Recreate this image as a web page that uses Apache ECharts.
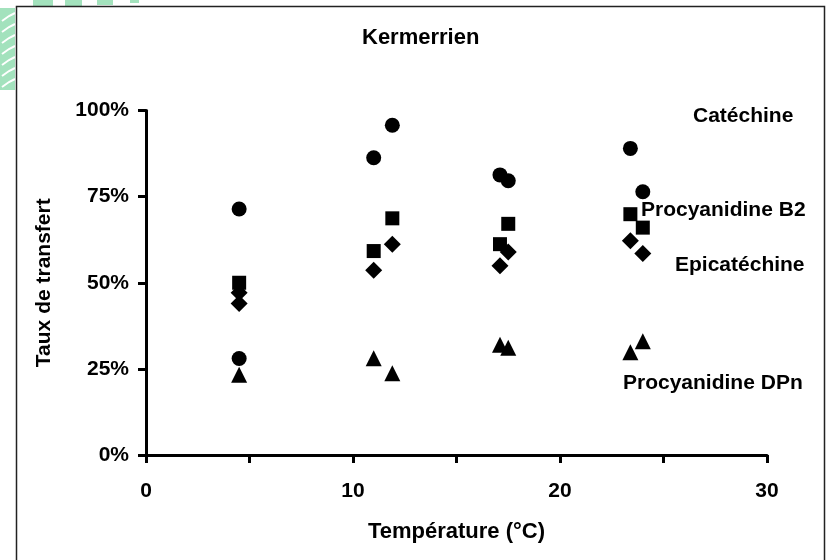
<!DOCTYPE html>
<html>
<head>
<meta charset="utf-8">
<script src="https://cdn.jsdelivr.net/npm/echarts@6/dist/echarts.min.js"></script>
<style>html,body{margin:0;padding:0;background:#fff}#c{width:831px;height:560px}</style>
</head>
<body>
<div id="c"></div>
<script>
// ---- data ----
const titleText = 'Kermerrien';
const xName = 'Température (°C)';
const yName = 'Taux de transfert';
const seriesNames = ['Catéchine', 'Procyanidine B2', 'Epicatéchine', 'Procyanidine DPn'];
const seriesSymbols = ['circle', 'rect', 'diamond', 'triangle'];
const catechineX = [4.5, 4.5, 11, 11.9, 17.1, 17.5, 23.4, 24];
const catechineY = [71.4, 28.0, 86.3, 95.7, 81.3, 79.6, 89.0, 76.4];
const b2X = [4.5, 11, 11.9, 17.1, 17.5, 23.4, 24];
const b2Y = [50.0, 59.2, 68.7, 61.2, 67.1, 69.9, 66.0];
const epiX = [4.5, 4.5, 11, 11.9, 17.1, 17.5, 23.4, 24];
const epiY = [47.1, 44.0, 53.6, 61.2, 54.9, 58.9, 62.2, 58.5];
const dpnX = [4.5, 11, 11.9, 17.1, 17.5, 23.4, 24];
const dpnY = [23.3, 28.1, 23.7, 32.0, 31.1, 29.8, 33.0];
const xTickLabels = ['0', '10', '20', '30'];
const yTickLabels = ['0%', '25%', '50%', '75%', '100%'];

const FONT = 'Liberation Sans, Arial, sans-serif';
const pairs = (xs, ys) => xs.map((x, i) => [x, ys[i]]);
const seriesData = [pairs(catechineX, catechineY), pairs(b2X, b2Y), pairs(epiX, epiY), pairs(dpnX, dpnY)];
const symbolSizes = [15, 14, 17, 16];
const labelPos = [[693, 116], [641, 210], [675, 265], [623, 383]];

const green = '#a3e2bd';
const deco = [];
// top-left decorative green pattern
[[33, 0, 20, 6], [65, 0, 17, 6], [97, 0, 16, 5], [130, 0, 9, 3]].forEach(r => {
  deco.push({type: 'rect', shape: {x: r[0], y: r[1], width: r[2], height: r[3]}, style: {fill: green}, silent: true});
});
deco.push({type: 'rect', shape: {x: 0, y: 8, width: 15, height: 82}, style: {fill: green}, silent: true});
for (let k = 0; k < 7; k++) {
  const y0 = 16 + k * 11;
  deco.push({type: 'polyline', shape: {points: [[2, y0 + 5], [9, y0], [15, y0 - 3]]}, style: {stroke: '#fff', lineWidth: 2, fill: null}, silent: true});
}
// frame
deco.push({type: 'rect', shape: {x: 16.5, y: 6.5, width: 808, height: 600}, style: {fill: null, stroke: '#222', lineWidth: 1.5}, silent: true, z: 10});
// title
deco.push({type: 'text', left: 362, top: 27, style: {text: titleText, font: 'bold 22px ' + FONT, fill: '#000'}, z: 10});
// series labels
seriesNames.forEach((n, i) => {
  deco.push({type: 'text', x: labelPos[i][0], y: labelPos[i][1], style: {text: n, font: 'bold 21px ' + FONT, fill: '#000', verticalAlign: 'middle', align: 'left'}, z: 10});
});

const drawOrder = [2, 1, 0, 3];
const chart = echarts.init(document.getElementById('c'), null, {renderer: 'canvas'});
chart.setOption({
  animation: false,
  backgroundColor: '#fff',
  grid: {left: 146, right: 64, top: 110.5, bottom: 105, containLabel: false},
  xAxis: {
    type: 'value', min: 0, max: 30, interval: 5,
    name: xName, nameLocation: 'middle', nameGap: 66,
    nameTextStyle: {fontFamily: FONT, fontWeight: 'bold', fontSize: 22, color: '#000'},
    axisLine: {show: true, lineStyle: {color: '#000', width: 3}},
    axisTick: {show: true, inside: false, length: 8, lineStyle: {color: '#000', width: 3}},
    axisLabel: {margin: 26, fontFamily: FONT, fontWeight: 'bold', fontSize: 21, color: '#000',
      formatter: v => { const i = xTickLabels.indexOf(String(v)); return i >= 0 ? xTickLabels[i] : ''; }},
    splitLine: {show: false}
  },
  yAxis: {
    type: 'value', min: 0, max: 100, interval: 25,
    name: yName, nameLocation: 'middle', nameGap: 91,
    nameTextStyle: {fontFamily: FONT, fontWeight: 'bold', fontSize: 21, color: '#000'},
    axisLine: {show: true, lineStyle: {color: '#000', width: 3}},
    axisTick: {show: true, inside: false, length: 8, lineStyle: {color: '#000', width: 3}},
    axisLabel: {margin: 17, fontFamily: FONT, fontWeight: 'bold', fontSize: 21, color: '#000',
      formatter: v => yTickLabels[Math.round(v / 25)]},
    splitLine: {show: false}
  },
  series: drawOrder.map(i => ({
    name: seriesNames[i], type: 'scatter', symbol: seriesSymbols[i], symbolSize: symbolSizes[i],
    itemStyle: {color: '#000', opacity: 1}, data: seriesData[i]
  })),
  graphic: deco
});
</script>
</body>
</html>
